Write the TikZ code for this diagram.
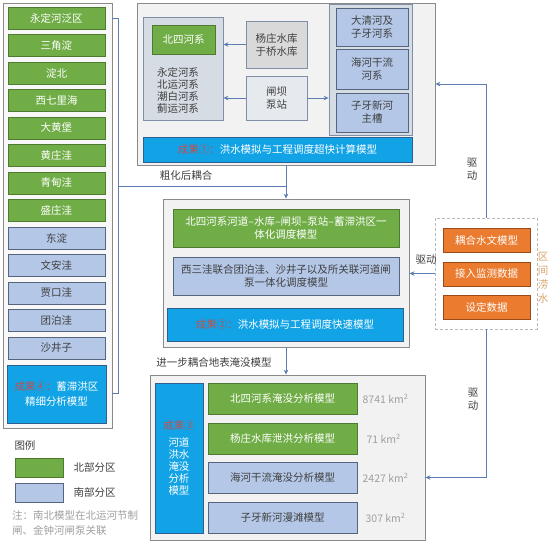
\documentclass[tikz,border=0pt]{standalone}
\usepackage{fontspec}
\setmainfont{Noto Sans CJK SC}
\usepackage{xcolor}
\usetikzlibrary{arrows.meta, positioning, calc}

\definecolor{grnfill}{HTML}{70AD47}
\definecolor{grnline}{HTML}{4E7A31}
\definecolor{bluefill}{HTML}{B4C7E7}
\definecolor{blueline}{HTML}{56657E}
\definecolor{cyanfill}{HTML}{12A3E6}
\definecolor{cyanline}{HTML}{2F5F8F}
\definecolor{panelfill}{HTML}{F2F2F2}
\definecolor{panelline}{HTML}{8A8A8A}
\definecolor{subfill}{HTML}{D6DCE4}
\definecolor{subline}{HTML}{7F8FA6}
\definecolor{orgfill}{HTML}{EB7B2F}
\definecolor{orgline}{HTML}{9A4A18}
\definecolor{linkcol}{HTML}{5B7DB1}
\definecolor{txtdark}{HTML}{404040}
\definecolor{redtxt}{HTML}{C0504D}
\definecolor{sidetxt}{HTML}{D9A46B}

\begin{document}
\begin{tikzpicture}[
    x=1pt, y=-1pt,
    font=\fontsize{10.5}{12}\selectfont,
    panel/.style={rectangle, draw=panelline, fill=panelfill, line width=0.8pt, inner sep=0pt},
    subpanel/.style={rectangle, draw=subline, fill=subfill, line width=0.8pt, inner sep=0pt, align=center, text=txtdark},
    nbox/.style={rectangle, draw=grnline, fill=grnfill, line width=0.8pt, inner sep=0pt, align=center, text=white},
    sbox/.style={rectangle, draw=blueline, fill=bluefill, line width=0.8pt, inner sep=0pt, align=center, text=txtdark},
    result/.style={rectangle, draw=cyanline, fill=cyanfill, line width=0.8pt, inner sep=0pt, align=center, text=white},
    zone/.style={minimum width=97pt, minimum height=22pt},
    srcbox/.style={rectangle, draw=orgline, fill=orgfill, line width=0.8pt, inner sep=0pt, text=white, minimum width=87pt, minimum height=24pt},
    tag/.style={text=txtdark, inner sep=0pt, align=center},
    value/.style={text=gray!75, inner sep=0pt},
    link/.style={draw=linkcol, line width=1pt},
    arrow/.style={link, -{Stealth[length=5pt,width=4.5pt]}}
]
\useasboundingbox (0,0) rectangle (550,549);
\fill[white] (0,0) rectangle (550,549);

% Left: flood detention zones
\node[panel, fill=white!50!panelfill, minimum width=109pt, minimum height=425pt] (column) at (57.5,215.5) {};
\node[nbox, zone] (yongding) at (56.5,18) {永定河泛区};
\node[nbox, zone, below=4.7pt of yongding] (sanjiao) {三角淀};
\node[nbox, zone, below=4.7pt of sanjiao] (dianbei) {淀北};
\node[nbox, zone, below=4.7pt of dianbei] (xiqili) {西七里海};
\node[nbox, zone, below=4.7pt of xiqili] (dahuang) {大黄堡};
\node[nbox, zone, below=4.7pt of dahuang] (huangzhuang) {黄庄洼};
\node[nbox, zone, below=4.7pt of huangzhuang] (qingdian) {青甸洼};
\node[nbox, zone, below=4.7pt of qingdian] (shengzhuang) {盛庄洼};
\node[sbox, zone, below=4.7pt of shengzhuang] (dongdian) {东淀};
\node[sbox, zone, below=4.7pt of dongdian] (wenan) {文安洼};
\node[sbox, zone, below=4.7pt of wenan] (jiakou) {贾口洼};
\node[sbox, zone, below=4.7pt of jiakou] (tuanbo) {团泊洼};
\node[sbox, zone, below=4.7pt of tuanbo] (shajing) {沙井子};
\node[result, font=\fontsize{10.5}{15}\selectfont, minimum width=99pt, minimum height=58pt] (res4) at (56.5,394) {\textcolor{redtxt}{成果④：}蓄滞洪区\\精细分析模型};

% Top: ultra-fast model
\node[panel, minimum width=298pt, minimum height=162pt] (stage1) at (286,84) {};
\node[subpanel, minimum width=80pt, minimum height=103pt] (beisi) at (183,68.5) {};
\node[nbox, minimum width=63pt, minimum height=29pt] (beisihe) at (183.5,39.5) {北四河系};
\node[tag] (rivers) at (178,90) {永定河系\\北运河系\\潮白河系\\蓟运河系};
\node[subpanel, fill=gray!30, font=\fontsize{10.5}{13}\selectfont, minimum width=61pt, minimum height=47pt] (reservoir) at (276.5,44.5) {杨庄水库\\于桥水库};
\node[subpanel, fill=subfill!60, font=\fontsize{10.5}{13}\selectfont, minimum width=61pt, minimum height=44pt] (gate) at (276.5,98) {闸坝\\泵站};
\node[subpanel, minimum width=83pt, minimum height=131pt] (haihe) at (370.5,69.5) {};
\node[sbox, font=\fontsize{10.5}{13}\selectfont, minimum width=72pt, minimum height=38pt] (daqing) at (372,27) {大清河及\\子牙河系};
\node[sbox, font=\fontsize{10.5}{13}\selectfont, minimum width=72pt, minimum height=40pt] (ganliu) at (372,69) {海河干流\\河系};
\node[sbox, font=\fontsize{10.5}{13}\selectfont, minimum width=72pt, minimum height=39pt] (ziya) at (372,112.5) {子牙新河\\主槽};
\node[result, minimum width=269pt, minimum height=25pt] (res1) at (277.5,149.5) {\textcolor{redtxt}{成果①：}洪水模拟与工程调度超快计算模型};

\draw[arrow] (reservoir.west) -- (reservoir.west -| beisi.east);
\draw[arrow] (gate.west) -- (gate.west -| beisi.east);
\draw[arrow] (gate.east) -- (gate.east -| haihe.west);

% Middle: fast model
\node[panel, minimum width=246pt, minimum height=148pt] (stage2) at (286,273) {};
\node[nbox, font=\fontsize{10.5}{13}\selectfont, minimum width=226pt, minimum height=38pt] (north2) at (286,228) {北四河系河道–水库–闸坝–泵站–蓄滞洪区一\\体化调度模型};
\node[sbox, font=\fontsize{10.5}{13}\selectfont, minimum width=226pt, minimum height=38pt] (south2) at (286,276) {西三洼联合团泊洼、沙井子以及所关联河道闸\\泵一体化调度模型};
\node[result, minimum width=236pt, minimum height=33pt] (res2) at (285,324.5) {\textcolor{redtxt}{成果②：}洪水模拟与工程调度快速模型};

% Bottom: inundation models
\node[panel, minimum width=275pt, minimum height=165pt] (stage3) at (287.5,457.5) {};
\node[result, minimum width=48pt, minimum height=150pt] (res3) at (179,458) {\textcolor{redtxt}{成果③}\\[5pt]河道\\洪水\\淹没\\分析\\模型};
\node[nbox, minimum width=149pt, minimum height=31pt] (beisiflood) at (282.5,398.5) {北四河系淹没分析模型};
\node[nbox, minimum width=149pt, minimum height=31pt] (yangzhuang) at (282.5,439) {杨庄水库泄洪分析模型};
\node[sbox, minimum width=149pt, minimum height=31pt] (haiheflood) at (282.5,478) {海河干流淹没分析模型};
\node[sbox, minimum width=149pt, minimum height=31pt] (ziyaflood) at (282.5,517.5) {子牙新河漫滩模型};
\node[value, right=5pt of beisiflood] (area1) {8741 km\textsuperscript{2}};
\node[value, right=9pt of yangzhuang] (area2) {71 km\textsuperscript{2}};
\node[value, right=5pt of haiheflood] (area3) {2427 km\textsuperscript{2}};
\node[value, right=8pt of ziyaflood] (area4) {307 km\textsuperscript{2}};

% Right: lateral inflow
\node[rectangle, draw=gray!55, densely dashed, fill=white, minimum width=102pt, minimum height=111pt] (inflow) at (486,273.5) {};
\node[srcbox] (hydro) at (486.5,240) {耦合水文模型};
\node[srcbox] (monitor) at (486.5,274) {接入监测数据};
\node[srcbox] (preset) at (486.5,307.5) {设定数据};
\node[tag, text=sidetxt, font=\fontsize{10.5}{14}\selectfont] (lateral) at (543,278) {区\\间\\涝\\水};

% Connectors
\coordinate (brtop) at (118,18);
\coordinate (brbot) at (118,393);
\coordinate (brmid) at (118,186);
\coordinate (join) at (stage1.south |- brmid);
\draw[link] (column.east |- brtop) -- (brtop) -- (brbot) -- (column.east |- brbot);
\draw[link] (brmid) -- (join);
\draw[link] (stage1.south) -- (join);
\draw[arrow] (join) -- (stage2.north);
\node[tag] (coarse) at (186,176) {粗化后耦合};
\draw[arrow] (stage2.south) -- (stage2.south |- stage3.north);
\node[tag] (further) at (214,362) {进一步耦合地表淹没模型};

\draw[arrow] (inflow.north) |- (stage1.east);
\draw[arrow] (inflow.west) -- (inflow.west -| stage2.east);
\draw[arrow] (inflow.south) |- ([yshift=-20pt]stage3.east);
\node[tag, font=\fontsize{10.5}{13}\selectfont] (drive1) at (472,169) {驱\\动};
\node[tag] (drive2) at (426,260) {驱动};
\node[tag, font=\fontsize{10.5}{13}\selectfont] (drive3) at (473,399) {驱\\动};

% Legend
\node[tag] (legend) at (25,446) {图例};
\node[nbox, minimum width=48pt, minimum height=19pt] (keyn) at (39,467.5) {};
\node[sbox, minimum width=48pt, minimum height=19pt] (keys) at (39,492.5) {};
\node[tag, right=10pt of keyn] (keyntext) {北部分区};
\node[tag, right=10pt of keys] (keystext) {南部分区};
\node[value, anchor=north west, align=left, font=\fontsize{10.5}{15}\selectfont] (note) at (12,510) {注：南北模型在北运河节制\\闸、金钟河闸泵关联};

\end{tikzpicture}
\end{document}
